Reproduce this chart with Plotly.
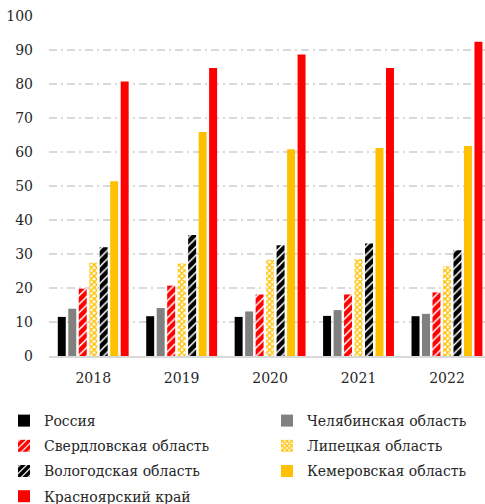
import plotly.graph_objects as go

years = ["2018", "2019", "2020", "2021", "2022"]
russia = [11.5, 11.7, 11.5, 11.8, 11.7]
chelyabinsk = [13.9, 14.1, 13.1, 13.5, 12.4]
sverdlovsk = [19.8, 20.7, 18.1, 18.1, 18.7]
lipetsk = [27.4, 27.2, 28.3, 28.5, 26.4]
vologda = [32.0, 35.6, 32.6, 33.1, 31.1]
kemerovo = [51.4, 65.9, 60.8, 61.2, 61.8]
krasnoyarsk = [80.7, 84.7, 88.7, 84.7, 92.4]

y_ticks = [0, 10, 20, 30, 40, 50, 60, 70, 80, 90, 100]

FONT = "DejaVu Serif"

# (name, values, marker, legend column)
series = [
    ("Россия", russia, dict(color="#000000"), "legend"),
    ("Челябинская область", chelyabinsk, dict(color="#808080"), "legend2"),
    ("Свердловская область", sverdlovsk,
     dict(color="#ffffff", pattern=dict(shape="/", fgcolor="#ff0000", bgcolor="#ffffff",
                                        fgopacity=1, size=6, solidity=0.75)), "legend"),
    ("Липецкая область", lipetsk,
     dict(color="#ffffff", pattern=dict(shape="x", fgcolor="#ffc000", bgcolor="#ffffff",
                                        fgopacity=1, size=4, solidity=0.6)), "legend2"),
    ("Вологодская область", vologda,
     dict(color="#ffffff", pattern=dict(shape="/", fgcolor="#000000", bgcolor="#ffffff",
                                        fgopacity=1, size=6, solidity=0.75)), "legend"),
    ("Кемеровская область", kemerovo, dict(color="#ffc000"), "legend2"),
    ("Красноярский край", krasnoyarsk, dict(color="#ff0000"), "legend"),
]

fig = go.Figure()
for i, (name, vals, marker, leg) in enumerate(series):
    fig.add_trace(go.Bar(x=years, y=vals, name=name, legend=leg, legendgroup=f"g{i}",
                         marker=dict(line=dict(width=0), **marker)))

top_px = 405
leg_common = dict(orientation="v", xref="container", yref="container", yanchor="top",
                  xanchor="left", font=dict(size=14), itemwidth=30, tracegroupgap=4,
                  y=1 - top_px / 504, bgcolor="rgba(0,0,0,0)")

fig.update_layout(
    width=485, height=504,
    margin=dict(l=49, r=0, t=16, b=148, autoexpand=False),
    plot_bgcolor="white", paper_bgcolor="white",
    barmode="group", bargap=0.17, bargroupgap=0.24,
    font=dict(family=FONT, size=14, color="#262626"),
    xaxis=dict(range=[-0.5, 4.43], showgrid=False, showline=True, linecolor="#d9d9d9", linewidth=2,
               ticks="", tickfont=dict(size=14), ticklabelstandoff=8),
    yaxis=dict(range=[0, 100], tickvals=y_ticks, showgrid=True, gridcolor="#d9d9d9", gridwidth=1.5,
               griddash="8px,4px,2px,4px", zeroline=False, ticks="", ticklabelstandoff=15,
               tickfont=dict(size=14)),
    legend=dict(x=4 / 485, **leg_common),
    legend2=dict(x=267 / 485, **leg_common),
)

fig.write_html("out.html", config={"displayModeBar": False},
               post_script="document.body.style.margin='0';")
